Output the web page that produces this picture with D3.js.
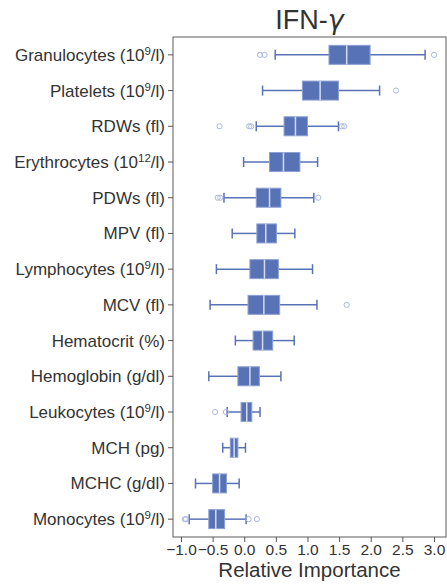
<!DOCTYPE html>
<html>
<head>
<meta charset="utf-8">
<script src="https://cdn.jsdelivr.net/npm/d3@7"></script>
<style>
  html, body { margin: 0; padding: 0; background: #fff; }
  svg { display: block; font-family: "Liberation Sans", Arial, sans-serif; }
</style>
</head>
<body>
<svg id="chart" width="447" height="584"></svg>
<script>
// Blood-count features ranked by relative importance for IFN-γ
const categories = [
  "Granulocytes (10^9/l)", "Platelets (10^9/l)", "RDWs (fl)", "Erythrocytes (10^12/l)",
  "PDWs (fl)", "MPV (fl)", "Lymphocytes (10^9/l)", "MCV (fl)", "Hematocrit (%)",
  "Hemoglobin (g/dl)", "Leukocytes (10^9/l)", "MCH (pg)", "MCHC (g/dl)", "Monocytes (10^9/l)"
];
const whiskerLow  = [0.49, 0.29, 0.19, -0.01, -0.32, -0.19, -0.44, -0.54, -0.14, -0.56, -0.27, -0.34, -0.77, -0.87];
const q1          = [1.34, 0.92, 0.63, 0.40, 0.19, 0.20, 0.09, 0.06, 0.14, -0.10, -0.05, -0.22, -0.50, -0.56];
const medians     = [1.62, 1.20, 0.81, 0.62, 0.40, 0.34, 0.32, 0.31, 0.29, 0.09, 0.04, -0.16, -0.39, -0.45];
const q3          = [1.99, 1.49, 1.00, 0.88, 0.58, 0.51, 0.54, 0.56, 0.45, 0.24, 0.12, -0.10, -0.28, -0.31];
const whiskerHigh = [2.86, 2.14, 1.49, 1.16, 1.10, 0.80, 1.08, 1.15, 0.79, 0.58, 0.25, 0.02, -0.08, 0.03];
const outliers    = [
  [0.25, 0.32, 3.00], [2.40], [-0.39, 0.08, 0.11, 1.54, 1.58], [],
  [-0.42, -0.38, 1.17], [], [], [1.62], [],
  [], [-0.46, -0.29], [], [], [-0.94, -0.92, 0.07, 0.20]
];
const xTicks = [-1.0, -0.5, 0.0, 0.5, 1.0, 1.5, 2.0, 2.5, 3.0];

const margin = { top: 37, right: 1, bottom: 47, left: 173 };
const width = 447, height = 584;
const svg = d3.select("#chart");

const x = d3.scaleLinear()
  .domain([-1.126, 3.19])
  .range([margin.left, width - margin.right]);

const y = d3.scaleBand()
  .domain(categories)
  .range([margin.top, height - margin.bottom])
  .paddingInner(0)
  .paddingOuter(0);

const boxH = 19, capH = 10;
const fill = "#5872b6", ink = "#333";

const rows = categories.map((c, i) => ({
  c, lo: whiskerLow[i], q1: q1[i], med: medians[i], q3: q3[i], hi: whiskerHigh[i], out: outliers[i]
}));

const g = svg.append("g");
const row = g.selectAll("g.row").data(rows).join("g")
  .attr("class", "row")
  .attr("transform", d => `translate(0,${y(d.c) + y.bandwidth() / 2})`);

// whiskers
row.append("line")
  .attr("x1", d => x(d.lo)).attr("x2", d => x(d.q1))
  .attr("stroke", fill).attr("stroke-width", 1.5);
row.append("line")
  .attr("x1", d => x(d.q3)).attr("x2", d => x(d.hi))
  .attr("stroke", fill).attr("stroke-width", 1.5);
row.append("line")
  .attr("x1", d => x(d.lo)).attr("x2", d => x(d.lo))
  .attr("y1", -capH / 2).attr("y2", capH / 2)
  .attr("stroke", fill).attr("stroke-width", 1.5);
row.append("line")
  .attr("x1", d => x(d.hi)).attr("x2", d => x(d.hi))
  .attr("y1", -capH / 2).attr("y2", capH / 2)
  .attr("stroke", fill).attr("stroke-width", 1.5);

// boxes
row.append("rect")
  .attr("x", d => x(d.q1)).attr("width", d => x(d.q3) - x(d.q1))
  .attr("y", -boxH / 2).attr("height", boxH)
  .attr("fill", fill).attr("stroke", "#8da0d3").attr("stroke-width", 1);

// medians
row.append("line")
  .attr("x1", d => x(d.med)).attr("x2", d => x(d.med))
  .attr("y1", -boxH / 2).attr("y2", boxH / 2)
  .attr("stroke", "#d3dcf2").attr("stroke-width", 1.5);

// outliers
row.selectAll("circle").data(d => d.out).join("circle")
  .attr("cx", v => x(v)).attr("cy", 0).attr("r", 2.6)
  .attr("fill", "none").attr("stroke", "#aab8e0").attr("stroke-width", 1);

// frame
svg.append("rect")
  .attr("x", margin.left).attr("y", margin.top)
  .attr("width", width - margin.right - margin.left)
  .attr("height", height - margin.bottom - margin.top)
  .attr("fill", "none").attr("stroke", "#777").attr("stroke-width", 1.2);

// y axis with superscripted units
const yAxis = svg.append("g")
  .attr("transform", `translate(${margin.left},0)`)
  .call(d3.axisLeft(y).tickSize(5).tickPadding(3).tickFormat(""));
yAxis.select(".domain").remove();
yAxis.selectAll(".tick line").attr("stroke", "#555");
yAxis.selectAll(".tick").each(function(d) {
  const t = d3.select(this).append("text")
    .attr("x", -8).attr("dy", "0.35em")
    .attr("text-anchor", "end")
    .attr("fill", ink).attr("font-size", 17);
  const m = d.match(/^(.*)\^(\d+)(.*)$/);
  if (m) {
    t.append("tspan").text(m[1]);
    t.append("tspan").text(m[2]).attr("font-size", 11.5).attr("dy", "-0.5em");
    t.append("tspan").text(m[3]).attr("dy", "0.34em");
  } else {
    t.text(d);
  }
});

// x axis
const xAxis = svg.append("g")
  .attr("transform", `translate(0,${height - margin.bottom})`)
  .call(d3.axisBottom(x).tickValues(xTicks).tickSize(5).tickPadding(2)
    .tickFormat(v => d3.format(".1f")(v).replace("-", "−")));
xAxis.select(".domain").remove();
xAxis.selectAll(".tick line").attr("stroke", "#555");
xAxis.selectAll(".tick text").attr("fill", ink).attr("font-size", 15.5)
  .attr("font-family", "'Liberation Sans', Arial, sans-serif");

svg.append("text")
  .attr("x", (margin.left + width - margin.right) / 2).attr("y", 577)
  .attr("text-anchor", "middle").attr("fill", ink).attr("font-size", 20.5)
  .text("Relative Importance");

const title = svg.append("text")
  .attr("x", (margin.left + width - margin.right) / 2).attr("y", 29)
  .attr("text-anchor", "middle").attr("fill", ink).attr("font-size", 27);
title.append("tspan").text("IFN-");
title.append("tspan").text("γ").attr("font-style", "italic")
  .attr("font-family", "'DejaVu Sans', sans-serif");
</script>
</body>
</html>
